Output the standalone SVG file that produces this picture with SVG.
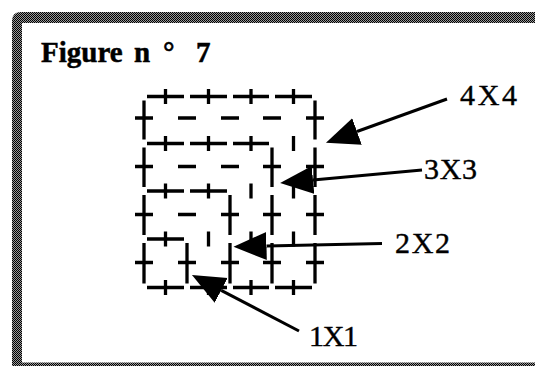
<svg xmlns="http://www.w3.org/2000/svg" width="535" height="366" viewBox="0 0 535 366" overflow="hidden">
<defs>
<pattern id="dither" width="2" height="2" patternUnits="userSpaceOnUse">
<rect width="2" height="2" fill="#999"/>
<rect width="1" height="1" fill="#000"/>
<rect x="1" y="1" width="1" height="1" fill="#000"/>
</pattern>
<marker id="head" markerUnits="userSpaceOnUse" markerWidth="36" markerHeight="30" viewBox="0 -15 36 30" refX="0" refY="0" orient="auto">
<path d="M0,-14 L33,0 L0,14 Z" fill="#000"/>
</marker>
</defs>
<style>
:root{overflow:hidden}
.ln{stroke:#000;stroke-width:3.3;fill:none;stroke-linecap:butt}
.tk{stroke:#000;stroke-width:3.3;fill:none}
.lbl{font-family:"Liberation Serif","Times New Roman",serif;font-size:30px;fill:#000;stroke:#000;stroke-width:0.4}
.ttl{font-family:"Liberation Serif","Times New Roman",serif;font-size:29px;font-weight:bold;fill:#000;stroke:#000;stroke-width:0.5}
.arr{stroke:#000;stroke-width:3;fill:none;marker-end:url(#head)}
</style>
<rect width="535" height="366" fill="#fff"/>
<g id="frame">
<path fill="url(#dither)" d="M12,366 L12,21 Q12,12 21,12 L535,12 L535,23 L22,23 L22,366 Z"/>
<rect x="22" y="362.5" width="513" height="3.5" fill="url(#dither)"/>
</g>
<g id="title">
<text class="ttl" x="41" y="61.5">Figure <tspan dx="4">n</tspan><tspan dx="13">°</tspan> <tspan dx="14">7</tspan></text>
</g>
<g id="grid">
<path class="ln" d="M147,96.5H184 M190,96.5H227 M233,96.5H269 M275,96.5H312 M147,143.5H184 M190,143.5H227 M233,143.5H269 M147,191H184 M190,191H227 M147,239H184 M147,287.5H184 M190,287.5H227 M233,287.5H269 M275,287.5H312"/>
<path class="ln" d="M144,100.5V139.5 M144,147.5V187 M144,195V235 M144,243V283.5 M187,243V283.5 M230,195V235 M230,243V283.5 M272,147.5V187 M272,195V235 M272,243V283.5 M315,100.5V139.5 M315,147.5V187 M315,195V235 M315,243V283.5"/>
<path class="tk" d="M165.5,89V104 M208.5,89V104 M251,89V104 M293.5,89V104 M165.5,136V151 M208.5,136V151 M251,136V151 M293.5,136V151 M165.5,183.5V198.5 M208.5,183.5V198.5 M251,183.5V198.5 M293.5,183.5V198.5 M165.5,231.5V246.5 M208.5,231.5V246.5 M251,231.5V246.5 M293.5,231.5V246.5 M165.5,280V295 M208.5,280V295 M251,280V295 M293.5,280V295"/>
<path class="tk" d="M135,118H153 M178,118H196 M221,118H239 M263,118H281 M306,118H324 M135,166.5H153 M178,166.5H196 M221,166.5H239 M263,166.5H281 M306,166.5H324 M135,214.5H153 M178,214.5H196 M221,214.5H239 M263,214.5H281 M306,214.5H324 M135,262.5H153 M178,262.5H196 M221,262.5H239 M263,262.5H281 M306,262.5H324"/>
</g>
<g id="connectors">
<path class="arr" d="M447,99 L357,131.5"/>
<path class="arr" d="M422,170 L313,180"/>
<path class="arr" d="M382,243.5 L266.5,246"/>
<path class="arr" d="M299,331 L221.2,290.3"/>
</g>
<g id="label-4x4"><text class="lbl" x="460" y="105" textLength="57" lengthAdjust="spacing">4X4</text></g>
<g id="label-3x3"><text class="lbl" x="424" y="178.5" textLength="53" lengthAdjust="spacing">3X3</text></g>
<g id="label-2x2"><text class="lbl" x="395" y="252.5" textLength="55" lengthAdjust="spacing">2X2</text></g>
<g id="label-1x1"><text class="lbl" x="309" y="345.5" textLength="49" lengthAdjust="spacing">1X1</text></g>
</svg>
